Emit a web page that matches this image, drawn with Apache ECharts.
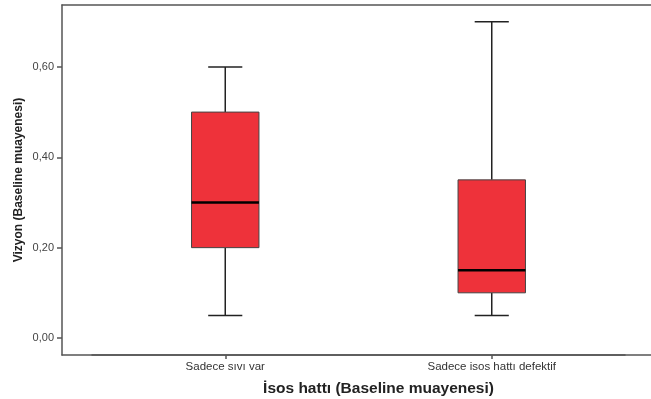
<!DOCTYPE html>
<html>
<head>
<meta charset="utf-8">
<script src="https://cdn.jsdelivr.net/npm/echarts@6/dist/echarts.min.js"></script>
<style>html,body{margin:0;padding:0;background:#fff}#c{width:651px;height:399px}</style>
</head>
<body>
<div id="c"></div>
<script>
var categories = ['Sadece sıvı var', 'Sadece isos hattı defektif'];
var mins = [0.05, 0.05];
var q1s = [0.20, 0.10];
var medians = [0.30, 0.15];
var q3s = [0.50, 0.35];
var maxs = [0.60, 0.70];
var yTicks = [0, 0.2, 0.4, 0.6];
var yTitle = 'Vizyon (Baseline muayenesi)';
var xTitle = 'İsos hattı (Baseline muayenesi)';

var data = categories.map(function (c, i) {
  return [i, mins[i], q1s[i], medians[i], q3s[i], maxs[i]];
});

var chart = echarts.init(document.getElementById('c'), null, {renderer: 'canvas'});
var fmt = function (v) { return v.toFixed(2).replace('.', ','); };
var font = 'Liberation Sans, Arial, sans-serif';
var frameLine = {show: true, onZero: false, lineStyle: {color: '#555', width: 1.5}};

chart.setOption({
  animation: false,
  backgroundColor: '#fff',
  grid: [
    {left: 92, right: 26, top: 5, bottom: 44, containLabel: false, outerBoundsMode: 'none'},
    {left: 62, right: 0, top: 5, bottom: 44, show: false, containLabel: false, outerBoundsMode: 'none'}
  ],
  xAxis: [
    {
      type: 'category', gridIndex: 0, data: categories,
      axisLine: frameLine,
      axisTick: {show: true, alignWithLabel: true, length: 4, lineStyle: {color: '#555', width: 1.5}},
      axisLabel: {color: '#333', fontSize: 11.5, fontFamily: font, margin: 6},
      name: xTitle, nameLocation: 'middle', nameGap: 26,
      nameTextStyle: {color: '#222', fontSize: 15.5, fontWeight: 'bold', fontFamily: font, padding: [0, 0, 0, 40]}
    },
    {type: 'value', gridIndex: 1, position: 'top', axisLine: frameLine,
      axisTick: {show: false}, axisLabel: {show: false}, splitLine: {show: false}},
    {type: 'value', gridIndex: 1, position: 'bottom', axisLine: frameLine,
      axisTick: {show: false}, axisLabel: {show: false}, splitLine: {show: false}}
  ],
  yAxis: [
    {
      type: 'value', gridIndex: 0, min: -0.0376, max: 0.737, offset: 30,
      axisLine: frameLine,
      axisTick: {show: true, length: 5, customValues: yTicks, lineStyle: {color: '#555', width: 1.5}},
      axisLabel: {color: '#444', fontSize: 11, fontFamily: font, margin: 8, customValues: yTicks, formatter: fmt},
      splitLine: {show: false},
      name: yTitle, nameLocation: 'middle', nameGap: 37, nameRotate: 90, nameMoveOverlap: false,
      nameTextStyle: {color: '#222', fontSize: 12, fontWeight: 'bold', fontFamily: font}
    },
    {type: 'value', gridIndex: 1, show: false}
  ],
  series: [{
    type: 'custom',
    xAxisIndex: 0, yAxisIndex: 0,
    data: data,
    encode: {x: 0, y: [1, 2, 3, 4, 5]},
    renderItem: function (params, api) {
      var x = api.value(0);
      var band = api.size([1, 0])[0];
      var bw = band * 0.253;
      var cw = band * 0.128;
      var pMin = api.coord([x, api.value(1)]);
      var pQ1 = api.coord([x, api.value(2)]);
      var pMed = api.coord([x, api.value(3)]);
      var pQ3 = api.coord([x, api.value(4)]);
      var pMax = api.coord([x, api.value(5)]);
      var cx = pMed[0];
      var ws = {stroke: '#222', lineWidth: 1.5};
      return {
        type: 'group',
        children: [
          {type: 'line', shape: {x1: cx, y1: pMax[1], x2: cx, y2: pQ3[1]}, style: ws},
          {type: 'line', shape: {x1: cx, y1: pQ1[1], x2: cx, y2: pMin[1]}, style: ws},
          {type: 'line', shape: {x1: cx - cw / 2, y1: pMax[1], x2: cx + cw / 2, y2: pMax[1]}, style: ws},
          {type: 'line', shape: {x1: cx - cw / 2, y1: pMin[1], x2: cx + cw / 2, y2: pMin[1]}, style: ws},
          {type: 'rect', shape: {x: cx - bw / 2, y: pQ3[1], width: bw, height: pQ1[1] - pQ3[1]},
            style: {fill: '#EE323A', stroke: '#444', lineWidth: 1}},
          {type: 'line', shape: {x1: cx - bw / 2, y1: pMed[1], x2: cx + bw / 2, y2: pMed[1]},
            style: {stroke: '#000', lineWidth: 2.5}}
        ]
      };
    }
  }]
});
</script>
</body>
</html>
